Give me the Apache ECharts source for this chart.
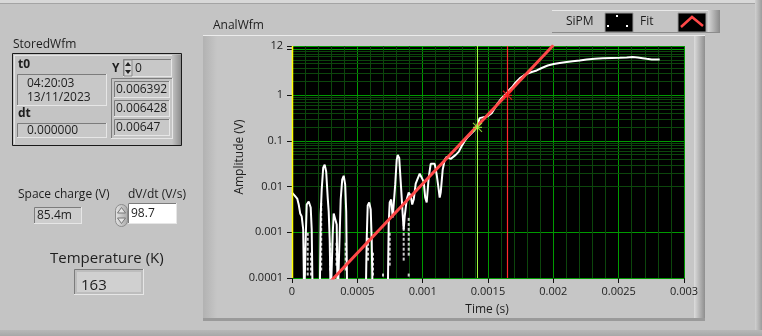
<!DOCTYPE html>
<html><head><meta charset="utf-8">
<script src="https://cdn.jsdelivr.net/npm/echarts@6/dist/echarts.min.js"></script>
<style>html,body{margin:0;padding:0;background:#c4c4c4}#c{width:762px;height:336px}</style>
</head><body><div id="c"></div><script>
// ---- data (time in ms, amplitude in V) ----
const sipmTimeMs = [0.000,0.0207,0.0398,0.0513,0.0628,0.0742,0.0857,0.0934,0.1048,0.1125,0.1278,0.1431,0.1508,0.1584,0.2120,0.2196,0.2273,0.2388,0.2502,0.2617,0.2732,0.2809,0.2885,0.2962,0.3115,0.3191,0.3306,0.3421,0.3497,0.3727,0.3842,0.3957,0.4071,0.4148,0.4224,0.5640,0.5717,0.5793,0.5908,0.6023,0.6099,0.6176,0.7324,0.7400,0.7477,0.7592,0.7707,0.7783,0.7898,0.8013,0.8089,0.8204,0.8357,0.8472,0.8548,0.8625,0.8778,0.8931,0.9084,0.9199,0.9314,0.9467,0.9620,0.9773,0.9926,1.0079,1.0194,1.0308,1.0461,1.0615,1.0768,1.0921,1.1074,1.1188,1.1303,1.1380,1.1533,1.1686,1.1839,1.1992,1.2145,1.2298,1.2528,1.2757,1.2987,1.3217,1.3446,1.3676,1.3905,1.4135,1.4364,1.4670,1.4977,1.5283,1.5512,1.5742,1.5972,1.6201,1.6431,1.6660,1.6890,1.7120,1.7426,1.7732,1.8038,1.8344,1.8727,1.9109,1.9568,2.0028,2.0487,2.1023,2.1482,2.2017,2.2553,2.3165,2.3778,2.4466,2.5078,2.5614,2.6073,2.6456,2.6839,2.7145,2.7527,2.7833,2.8140];
const sipmV = [0.00741,0.00637,0.00548,0.00406,0.00259,0.00223,0.00116,0.00003,0.000704,0.00406,0.00472,0.00349,0.00116,0.00003,0.00003,0.00246,0.00861,0.0259,0.0301,0.0212,0.00577,0.00286,0.000704,0.00003,0.000905,0.00259,0.00286,0.00149,0.00003,0.00522,0.0142,0.0173,0.01105,0.00286,0.00003,0.00003,0.000704,0.00386,0.00449,0.00316,0.000704,0.00003,0.00003,0.00149,0.00449,0.00522,0.00212,0.00192,0.01105,0.0386,0.0496,0.0427,0.00861,0.00246,0.00116,0.00223,0.00522,0.00741,0.00637,0.00406,0.00522,0.01162,0.01051,0.0192,0.0202,0.01285,0.00577,0.00449,0.0157,0.0316,0.0332,0.0316,0.01824,0.01051,0.00577,0.00741,0.0234,0.0386,0.0449,0.0496,0.0406,0.0449,0.0496,0.0577,0.0778,0.1,0.1222,0.1419,0.1649,0.2015,0.316,0.3325,0.349,0.406,0.522,0.670,0.819,0.951,1.105,1.350,1.569,1.917,2.342,2.721,3.008,3.244,3.495,3.962,4.489,4.840,5.089,5.350,5.568,5.767,6.061,6.278,6.470,6.535,6.600,6.700,6.871,6.700,6.470,6.278,6.061,6.061,6.061];
// isolated low samples drawn as dots (columns: time, values)
const dotColTimeMs = [0.0949,0.1202,0.1454,0.2235,0.2923,0.3406,0.4110,0.5816,0.6199,0.6964,0.7477,0.8548,0.8931];
const dotColV = [
  [0.000427,0.000332,0.000259,0.000201,0.000157,0.000122],
  [0.000905,0.000704,0.000548,0.000427,0.000332,0.000259,0.000201,0.000157,0.000122],
  [0.000332,0.000259,0.000201,0.000157,0.000122],
  [0.00406,0.00316,0.00246,0.00192,0.00149,0.00116,0.000905,0.000704,0.000548,0.000427,0.000332,0.000259,0.000201,0.000157],
  [0.000548,0.000427,0.000332,0.000259,0.000201,0.000157],
  [0.000548,0.000427,0.000332,0.000259,0.000201],
  [0.000548,0.000427,0.000332,0.000259,0.000201,0.000157],
  [0.000704,0.000548,0.000427,0.000332,0.000259],
  [0.000332,0.000259,0.000201,0.000157,0.000122],
  [0.000116],
  [0.000905,0.000704,0.000548,0.000427,0.000332,0.000259,0.000201],
  [0.00192,0.00149,0.00116,0.000905,0.000704,0.000548,0.000427,0.000332,0.000259],
  [0.00192,0.00149,0.00116,0.000905,0.000704,0.000548,0.000427,0.000332,0.000116]
];
const fitTimeMs = [0.30, 2.00];
const fitV = [0.0000869, 12.45];
const cursorGreen = [1.4196, 0.198];
const cursorRed = [1.6492, 1.0];
const yTickVals = [0.0001,0.001,0.01,0.1,1,10,12];
const yLabelVals = [0.0001,0.001,0.01,0.1,1,12];

const FONT = '"Open Sans","Noto Sans",sans-serif';
const GL=292, GT=46, GW=392, GH=232;
const YMIN=0.0001, YMAX=12;

const sipmData = sipmTimeMs.map((t,i)=>[t/1000, sipmV[i]]);
const fitData = fitTimeMs.map((t,i)=>[t/1000, fitV[i]]);
const dotData = [];
dotColTimeMs.forEach((t,i)=>dotColV[i].forEach(v=>dotData.push([t/1000, v])));
const yMinor = [];
for (let e=-4;e<=1;e++) for (let k=2;k<=9;k++){const v=+(k*Math.pow(10,e)).toPrecision(3); if (v<12) yMinor.push(v);}

function rect(x,y,w,h,fill,stroke,z,r){return {type:'rect',shape:{x:x,y:y,width:w,height:h,r:r||0},style:{fill:fill,stroke:stroke||null,lineWidth:1},z:z==null?-5:z,silent:true};}
function ln(x1,y1,x2,y2,stroke,z,w){return {type:'line',shape:{x1:x1,y1:y1,x2:x2,y2:y2},style:{stroke:stroke,lineWidth:w||1},z:z==null?-4:z,silent:true};}
function txt(x,y,s,size,opt){return {type:'text',x:x,y:y,style:Object.assign({text:s,fill:'#1e1e1e',font:(size||12)+'px '+FONT,textAlign:'left',textVerticalAlign:'middle',align:'left',verticalAlign:'middle'},opt||{}),z:50,silent:true};}
function sunken(x,y,w,h,fill,z){z=z==null?-3:z;return [rect(x,y,w,h,fill,null,z),ln(x+.5,y+.5,x+w,y+.5,'#7c7c7c',z+1),ln(x+.5,y+.5,x+.5,y+h,'#7c7c7c',z+1),ln(x,y+h-.5,x+w,y+h-.5,'#e6e6e6',z+1),ln(x+w-.5,y,x+w-.5,y+h,'#e6e6e6',z+1)];}
function grad(c1,c2,horiz){return {type:'linear',x:0,y:0,x2:horiz?1:0,y2:horiz?0:1,colorStops:[{offset:0,color:c1},{offset:1,color:c2}]};}

const g = [];
// window frame
g.push(rect(0,0,762,3,'#d8d8d8',null,-9));
g.push(ln(0,3.5,762,3.5,'#a4a4a4',-8));
g.push(rect(755,0,7,336,grad('#d0d0d0','#9c9c9c',true),null,-8));
g.push(rect(0,330,762,6,grad('#b8b8b8','#a8a8a8'),null,-8));
// graph frame
g.push(rect(203,35,502,286,'#c6c6c6',null,-9));
g.push(ln(203,35.5,705,35.5,'#ececec',-8));
g.push(rect(203,36,14,284,grad('#b2b2b2','#c6c6c6',true),null,-8));
g.push(rect(694,36,11,284,grad('#dcdcdc','#8e8e8e',true),null,-8));
g.push(rect(203,318,502,3,'#9a9a9a',null,-8));
g.push(txt(213,26,'AnalWfm',12));
// plot y-axis line (yellow, LabVIEW style)
g.push(ln(GL+0.5,GT,GL+0.5,GT+GH,'#ffff00',20,1.5));
// legend
g.push(rect(552,10,168,23,'#c4c4c4',null,-7));
g.push(ln(552,10.5,720,10.5,'#e8e8e8',-6));
g.push(rect(708,10,12,23,grad('#d6d6d6','#8a8a8a',true),null,-6));
g.push(ln(552,32.5,720,32.5,'#8c8c8c',-6));
g.push(txt(566,22,'SiPM',12));
g.push(rect(605,13,28,19,'#000','#9a9a9a',-5));
g.push(rect(616,15,2,2,'#fff',null,-4),rect(607,25,2,2,'#fff',null,-4),rect(626,25,2,2,'#fff',null,-4));
g.push(txt(640,22,'Fit',12));
g.push(rect(678,13,28,19,'#000','#9a9a9a',-5));
g.push({type:'polyline',shape:{points:[[681,27],[692,17],[703,26]]},style:{stroke:'#ff4848',lineWidth:2.5,fill:null},z:-4,silent:true});
// axis names
g.push(txt(487,310,'Time (s)',12,{textAlign:'center',align:'center'}));
g.push({type:'text',x:240,y:157,rotation:Math.PI/2,style:{text:'Amplitude (V)',fill:'#1e1e1e',font:'12px '+FONT,textAlign:'center',textVerticalAlign:'middle',align:'center',verticalAlign:'middle'},z:50,silent:true});
// StoredWfm cluster
g.push(txt(13,45,'StoredWfm',12));
g.push(rect(12.5,53.5,169,92,'#c4c4c4','#1a1a1a',-7));
g.push(ln(14,55.5,180,55.5,'#e4e4e4',-6),ln(14.5,55,14.5,144,'#e4e4e4',-6));
g.push(rect(172,54.5,9,90.5,grad('#c4c4c4','#8e8e8e',true),null,-6));
g.push(txt(18,65,'t0',12,{font:'bold 12px '+FONT}));
g.push(...sunken(17,74,90,32,'#c8c8c8'));
g.push(txt(27,83.5,'04:20:03',12),txt(27,97.5,'13/11/2023',12));
g.push(txt(18,114,'dt',12,{font:'bold 12px '+FONT}));
g.push(...sunken(17,123,90,15,'#c8c8c8'));
g.push(txt(27,130.5,'0.000000',12));
g.push(txt(112,69,'Y',12,{font:'bold 12px '+FONT}));
g.push(...sunken(123,59,49,18,'#c8c8c8'));
g.push(rect(124,60,8,16,'#d4d4d4','#8a8a8a',-2));
g.push({type:'polygon',shape:{points:[[125,66],[131,66],[128,62]]},style:{fill:'#222'},z:-1,silent:true});
g.push({type:'polygon',shape:{points:[[125,70],[131,70],[128,74]]},style:{fill:'#222'},z:-1,silent:true});
g.push(txt(135,68.5,'0',12));
g.push(...sunken(111,78,62,61,'#c4c4c4'));
g.push(...sunken(114,81,56,17,'#c8c8c8',-1));
g.push(...sunken(114,100,56,17,'#c8c8c8',-1));
g.push(...sunken(114,119,56,17,'#c8c8c8',-1));
g.push(txt(116,89.5,'0.006392',12),txt(116,108.5,'0.006428',12),txt(116,127.5,'0.00647',12));
// lower left controls
g.push(txt(18,195,'Space charge (V)',12));
g.push(...sunken(34,207,48,17,'#cdcdcd'));
g.push(txt(37,215.5,'85.4m',12));
g.push(txt(128,195,'dV/dt (V/s)',12));
g.push(rect(115.5,204.5,12,22,grad('#e6e6e6','#a8a8a8',true),'#8c8c8c',-3,6));
g.push({type:'polygon',shape:{points:[[117.5,213],[125.5,213],[121.5,207.5]]},style:{fill:'#e4e4e4',stroke:'#777',lineWidth:1},z:-1,silent:true});
g.push({type:'polygon',shape:{points:[[117.5,218],[125.5,218],[121.5,223.5]]},style:{fill:'#e4e4e4',stroke:'#777',lineWidth:1},z:-1,silent:true});
g.push(...sunken(128,203,49,21,'#ffffff'));
g.push(txt(131,214,'98.7',12));
g.push(txt(50,259,'Temperature (K)',15));
g.push(...sunken(74,269,70,26,'#bdbdbd'));
g.push(rect(77,272,64,20,'#d0d0d0',null,-1));
g.push(txt(81,286,'163',15));

const chart = echarts.init(document.getElementById('c'));
chart.setOption({
  backgroundColor:'#c4c4c4',
  animation:false,
  graphic:{elements:g},
  grid:{left:GL,top:GT,width:GW,height:GH,show:true,backgroundColor:'#000',borderWidth:0},
  xAxis:{type:'value',min:0,max:0.003,interval:0.0005,
    axisLine:{show:false},
    axisTick:{show:true,length:5,lineStyle:{color:'#111'}},
    axisLabel:{show:true,margin:8,color:'#1e1e1e',fontFamily:FONT,fontSize:11,formatter:v=>String(+(+v).toPrecision(6))},
    splitLine:{show:true,lineStyle:{color:'#009a00',width:1}},
    minorTick:{show:false,splitNumber:5},
    minorSplitLine:{show:true,lineStyle:{color:'#0c460c',width:1}}},
  yAxis:{type:'log',logBase:10,min:YMIN,max:YMAX,
    axisLine:{show:false},
    axisTick:{show:true,length:5,lineStyle:{color:'#111'},customValues:yTickVals},
    axisLabel:{show:true,margin:9,color:'#1e1e1e',fontFamily:FONT,fontSize:11,customValues:yLabelVals,formatter:v=>String(+(+v).toPrecision(6))},
    splitLine:{show:true,lineStyle:{color:'#009a00',width:1}}},
  series:[
    {type:'line',data:[],silent:true,z:1,
      markLine:{z:1,silent:true,symbol:'none',label:{show:false},animation:false,
        lineStyle:{color:'#0c460c',type:'solid',width:1},
        data:yMinor.map(v=>({yAxis:v}))}},
    {type:'scatter',name:'SiPM dots',data:dotData,symbol:'rect',symbolSize:[2,3],itemStyle:{color:'#ffffff'},z:3,silent:true},
    {type:'line',name:'SiPM',data:sipmData,showSymbol:false,clip:true,lineStyle:{color:'#ffffff',width:2},z:4,silent:true},
    {type:'line',name:'Fit',data:fitData,showSymbol:false,clip:true,lineStyle:{color:'#ff4848',width:3},z:5,silent:true},
    {type:'line',name:'cursorGreenLine',data:[[cursorGreen[0]/1000,YMIN],[cursorGreen[0]/1000,YMAX]],showSymbol:false,lineStyle:{color:'#a6ff40',width:1},z:6,silent:true},
    {type:'line',name:'cursorRedLine',data:[[cursorRed[0]/1000,YMIN],[cursorRed[0]/1000,YMAX]],showSymbol:false,lineStyle:{color:'#ff2a2a',width:1.2},z:6,silent:true},
    {type:'scatter',name:'cursors',silent:true,z:7,
      symbol:'path://M0,0L10,10M10,0L0,10M5,0L5,10M0,5L10,5',symbolSize:9,
      data:[{value:[cursorGreen[0]/1000,cursorGreen[1]],itemStyle:{color:'rgba(0,0,0,0)',borderColor:'#a6ff40',borderWidth:1.2}},
            {value:[cursorRed[0]/1000,cursorRed[1]],itemStyle:{color:'rgba(0,0,0,0)',borderColor:'#ff2020',borderWidth:1.2}}]}
  ]
});
</script></body></html>
